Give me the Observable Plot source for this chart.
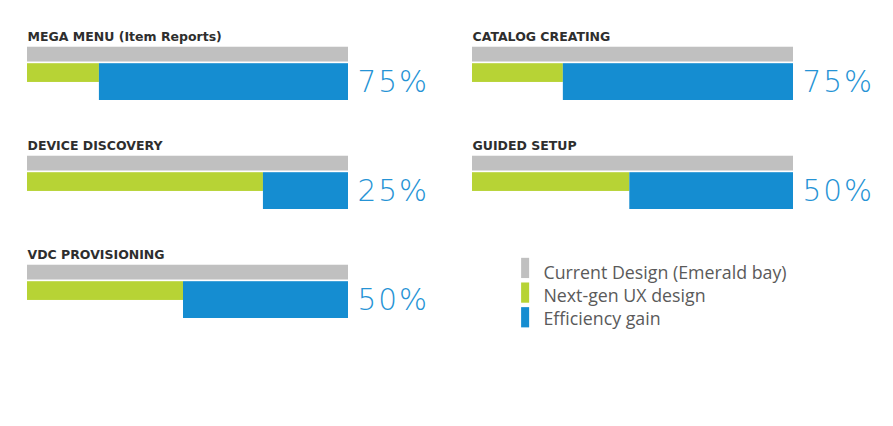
<!DOCTYPE html>
<html>
<head>
<meta charset="utf-8">
<script src="https://cdn.jsdelivr.net/npm/d3@7"></script>
<script src="https://cdn.jsdelivr.net/npm/@observablehq/plot@0.6"></script>
<style>
  html, body { margin: 0; padding: 0; background: #fff; }
  .pct text { letter-spacing: 2px; }
</style>
</head>
<body>
<div id="chart"></div>
<script>
const categories = ["MEGA MENU (Item Reports)", "CATALOG CREATING", "DEVICE DISCOVERY", "GUIDED SETUP", "VDC PROVISIONING"];
const currentDesign = [100, 100, 100, 100, 100];
const nextGenDesign = [22.4, 28.3, 73.5, 49, 48.6];
const efficiencyGain = [75, 75, 25, 50, 50];
const legendLabels = ["Current Design (Emerald bay)", "Next-gen UX design", "Efficiency gain"];

const GREY = "#c0c0c0", GREEN = "#b7d335", BLUE = "#158dd1";
const legendColors = [GREY, GREEN, BLUE];

const table = categories.map((name, i) => ({
  name,
  current: currentDesign[i],
  next: nextGenDesign[i],
  gain: efficiencyGain[i],
  col: i % 2,
  row: Math.floor(i / 2)
}));

const fx = "col", fy = "row";

const chart = Plot.plot({
  width: 893,
  height: 426,
  marginLeft: 27,
  marginRight: 100,
  marginTop: 26,
  marginBottom: 106,
  style: { fontFamily: "'DejaVu Sans', sans-serif", background: "#fff" },
  fx: { axis: null, domain: [0, 1], paddingInner: 0.2787, paddingOuter: 0 },
  fy: { axis: null, domain: [0, 1, 2], paddingInner: 0.327, paddingOuter: 0 },
  x: { axis: null, domain: [0, 100] },
  y: { axis: null, domain: [0, 74], reverse: true },
  marks: [
    Plot.text(table, {
      fx, fy, x: 0, y: 13.3, text: "name",
      textAnchor: "start", lineAnchor: "bottom",
      fontWeight: "bold", fontSize: 12.5, fill: "#2e2e2e",
      fontFamily: "'DejaVu Sans', sans-serif"
    }),
    Plot.rect(table, { fx, fy, x1: 0, x2: "current", y1: 20, y2: 35, fill: GREY }),
    Plot.rect(table, { fx, fy, x1: 0, x2: "next", y1: 36.7, y2: 55.7, fill: GREEN }),
    Plot.rect(table, { fx, fy, x1: "next", x2: "current", y1: 36.7, y2: 74, fill: BLUE }),
    Plot.text(table, {
      fx, fy, x: "current", y: 65, text: d => d.gain + "%",
      dx: 9, textAnchor: "start", lineAnchor: "bottom",
      fontSize: 29.5, fontWeight: 200, fill: "#2593d5",
      className: "pct",
      fontFamily: "'DejaVu Sans', sans-serif"
    }),
    ...legendLabels.map((label, i) => Plot.rect([label], {
      fx: () => 1, fy: () => 2,
      x1: 15.3, x2: 17.8,
      y1: 13 + i * 25, y2: 33.5 + i * 25,
      fill: legendColors[i]
    })),
    Plot.text(legendLabels, {
      fx: () => 1, fy: () => 2,
      x: 22.1, y: (d, i) => 34 + i * 23.4, text: d => d,
      textAnchor: "start", lineAnchor: "bottom",
      fontSize: 17.8, fill: "#5a5a5a",
      fontFamily: "'Open Sans', sans-serif"
    })
  ]
});

document.getElementById("chart").append(chart);
</script>
</body>
</html>
